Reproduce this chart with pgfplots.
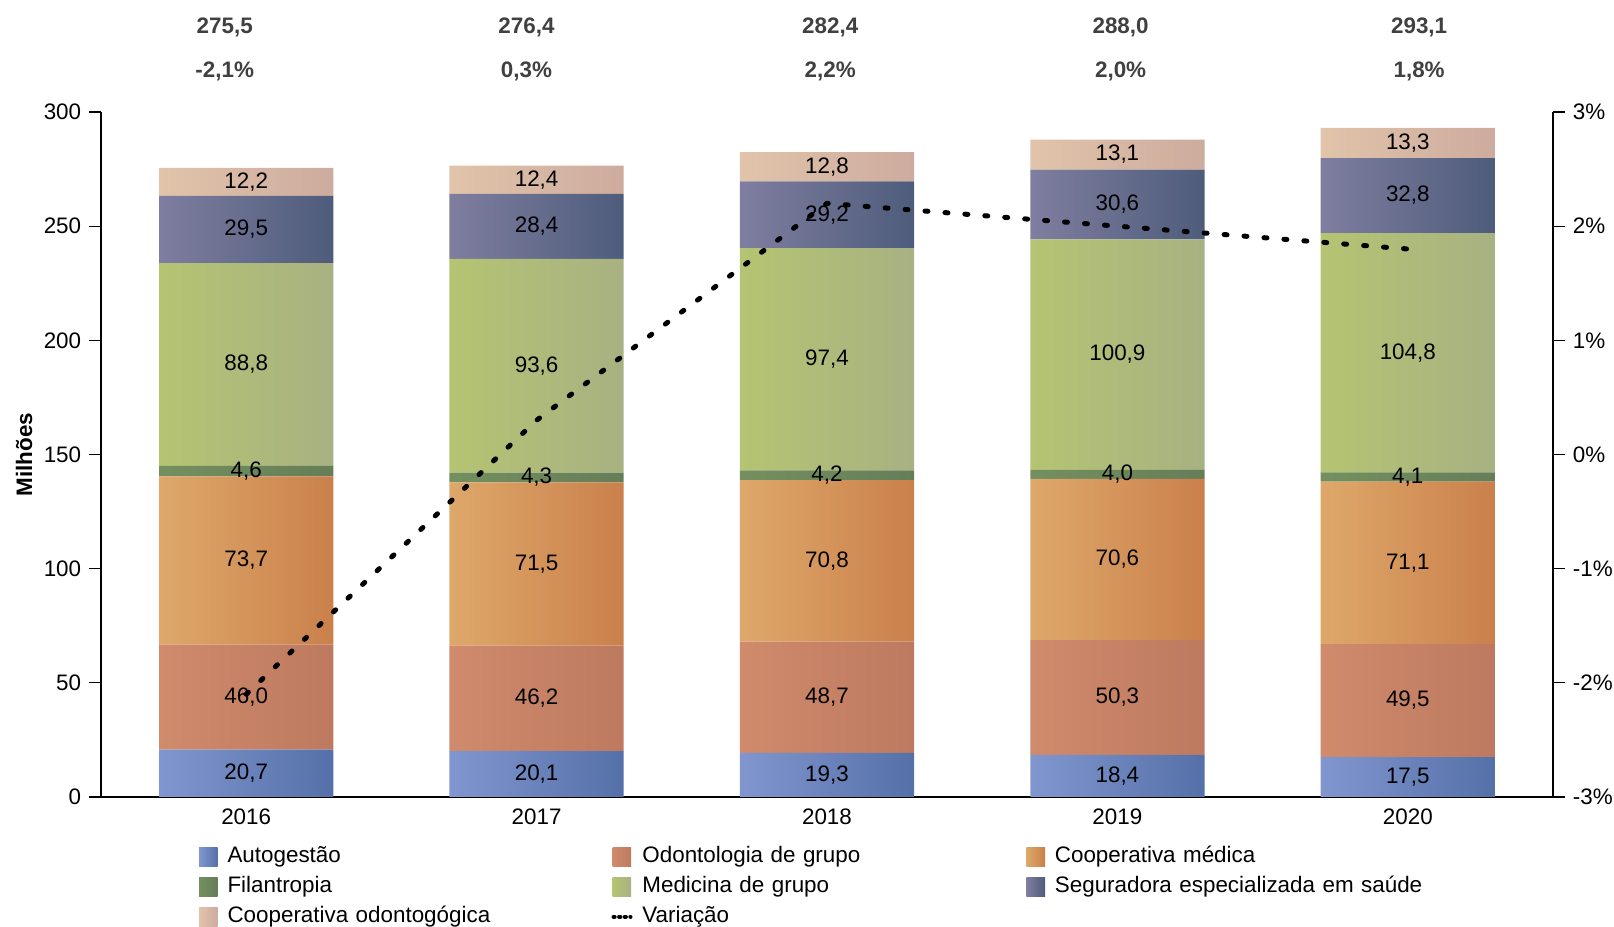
\documentclass[border=0pt]{standalone}
\usepackage{pgfplots}
\pgfplotsset{compat=1.18}
\usepackage{pgfplotstable}
\usepackage{fontspec}
\setmainfont{Liberation Sans}

\definecolor{aL}{HTML}{8196CF}\definecolor{aR}{HTML}{5570A8}
\definecolor{bL}{HTML}{D08A6C}\definecolor{bR}{HTML}{BD7A60}
\definecolor{cL}{HTML}{DEA86A}\definecolor{cR}{HTML}{CA804B}
\definecolor{dL}{HTML}{748F5F}\definecolor{dR}{HTML}{667E58}
\definecolor{eL}{HTML}{B5C472}\definecolor{eR}{HTML}{A8B182}
\definecolor{fL}{HTML}{7F7EA0}\definecolor{fR}{HTML}{4E5C7B}
\definecolor{gL}{HTML}{E1C4AA}\definecolor{gR}{HTML}{CDAB9E}
\definecolor{toplab}{HTML}{404040}

% one horizontal shading per series, repeating the left-to-right gradient on each of the 5 bars
\newcommand\mkshade[3]{\pgfdeclarehorizontalshading{#1}{100bp}{color(0bp)=(#2); color(25bp)=(#2); color(31.5217bp)=(#3); color(35.8696bp)=(#2); color(42.3913bp)=(#3); color(46.7391bp)=(#2); color(53.2609bp)=(#3); color(57.6087bp)=(#2); color(64.1304bp)=(#3); color(68.4783bp)=(#2); color(75bp)=(#3); color(100bp)=(#3)}}
\mkshade{shA}{aL}{aR}
\mkshade{shB}{bL}{bR}
\mkshade{shC}{cL}{cR}
\mkshade{shD}{dL}{dR}
\mkshade{shE}{eL}{eR}
\mkshade{shF}{fL}{fR}
\mkshade{shG}{gL}{gR}

\pgfplotsset{
  lsq/.style 2 args={legend image code/.code={\path[draw=none,left color=#1,right color=#2] (0pt,-4.65pt) rectangle (9.3pt,4.65pt);}},
}

\pgfplotstableread{
x a b c d e f g
0 20.7 46.0 73.7 4.6 88.8 29.5 12.2
1 20.1 46.2 71.5 4.3 93.6 28.4 12.4
2 19.3 48.7 70.8 4.2 97.4 29.2 12.8
3 18.4 50.3 70.6 4.0 100.9 30.6 13.1
4 17.5 49.5 71.1 4.1 104.8 32.8 13.3
}\data

\pgfplotstableread{
x v
0 -2.1
1 0.3
2 2.2
3 2.0
4 1.8
}\var

\begin{document}
\fontsize{11.2}{13.4}\selectfont
\begin{tikzpicture}
\useasboundingbox (0,0) rectangle (807pt,463.5pt);
\begin{axis}[
  at={(50.5pt,65pt)}, anchor=south west,
  scale only axis, width=726pt, height=342.5pt,
  xmin=-0.5, xmax=4.5, ymin=0, ymax=300,
  ytick={0,50,...,300},
  xtick={0,1,2,3,4}, xticklabels={2016,2017,2018,2019,2020},
  axis x line*=bottom, axis y line*=left,
  axis line style={-, black, line width=0.6pt},
  tick align=outside, major tick length=6pt,
  ytick style={black, line width=0.6pt},
  xtick style={draw=none},
  x tick label style={yshift=4pt},
  /pgf/number format/assume math mode=true,
  ylabel={\textbf{Milhões}},
  every axis y label/.style={at={(axis description cs:-0.053,0.5)}, rotate=90, anchor=center},
  ybar stacked, bar width=0.6,
  clip=false,
  point meta=explicit,
  nodes near coords={\pgfmathprintnumber[assume math mode=true,use comma,fixed,fixed zerofill,precision=1]{\pgfplotspointmeta}},
  every node near coord/.append style={text=black, anchor=center},
  legend columns=3,
  legend cell align=left,
  legend style={at={(axis description cs:0.0675,-0.069)}, anchor=north west, draw=none, inner sep=0pt, outer sep=0pt,
    column sep=0pt, row sep=2.5pt,
    /tikz/every odd column/.style={column sep=3.95pt},
    nodes={text height=8pt, text depth=2.5pt, inner sep=1pt, text width=191pt, align=left}},
]
\addplot[draw=none, shade, shading=shA, lsq={aL}{aR}] table[x=x,y=a,meta=a] {\data};
\addlegendentry{Autogestão}
\addplot[draw=none, shade, shading=shB, lsq={bL}{bR}] table[x=x,y=b,meta=b] {\data};
\addlegendentry{Odontologia de grupo}
\addplot[draw=none, shade, shading=shC, lsq={cL}{cR}] table[x=x,y=c,meta=c] {\data};
\addlegendentry{Cooperativa médica}
\addplot[draw=none, shade, shading=shD, lsq={dL}{dR}] table[x=x,y=d,meta=d] {\data};
\addlegendentry{Filantropia}
\addplot[draw=none, shade, shading=shE, lsq={eL}{eR}] table[x=x,y=e,meta=e] {\data};
\addlegendentry{Medicina de grupo}
\addplot[draw=none, shade, shading=shF, lsq={fL}{fR}] table[x=x,y=f,meta=f] {\data};
\addlegendentry{Seguradora especializada em saúde}
\addplot[draw=none, shade, shading=shG, lsq={gL}{gR}] table[x=x,y=g,meta=g] {\data};
\addlegendentry{Cooperativa odontogógica}
\addlegendimage{legend image code/.code={\draw[black, line width=2pt, line cap=round, dash pattern=on 0.6pt off 2.2pt] (0.5pt,0pt) -- (9pt,0pt);}}
\addlegendentry{Variação}

\node[font=\bfseries, text=toplab] at (axis cs:-0.074,337) {275,5};
\node[font=\bfseries, text=toplab] at (axis cs:0.965,337) {276,4};
\node[font=\bfseries, text=toplab] at (axis cs:2.011,337) {282,4};
\node[font=\bfseries, text=toplab] at (axis cs:3.011,337) {288,0};
\node[font=\bfseries, text=toplab] at (axis cs:4.039,337) {293,1};
\node[font=\bfseries, text=toplab] at (axis cs:-0.074,317.6) {-2,1\%};
\node[font=\bfseries, text=toplab] at (axis cs:0.965,317.6) {0,3\%};
\node[font=\bfseries, text=toplab] at (axis cs:2.011,317.6) {2,2\%};
\node[font=\bfseries, text=toplab] at (axis cs:3.011,317.6) {2,0\%};
\node[font=\bfseries, text=toplab] at (axis cs:4.039,317.6) {1,8\%};
\end{axis}

\begin{axis}[
  at={(50.5pt,65pt)}, anchor=south west,
  scale only axis, width=726pt, height=342.5pt,
  xmin=-0.5, xmax=4.5, ymin=-3, ymax=3,
  ytick={-3,-2,...,3},
  axis x line=none, axis y line*=right,
  axis line style={-, black, line width=0.6pt},
  tick align=outside, major tick length=6pt,
  ytick style={black, line width=0.6pt},
  /pgf/number format/assume math mode=true,
  yticklabel={\pgfmathprintnumber{\tick}\%},
  clip=false,
]
\addplot[black, line width=2.5pt, line cap=round, dash pattern=on 1.5pt off 8.5pt, mark=none] table[x=x,y=v] {\var};
\end{axis}
\end{tikzpicture}
\end{document}
